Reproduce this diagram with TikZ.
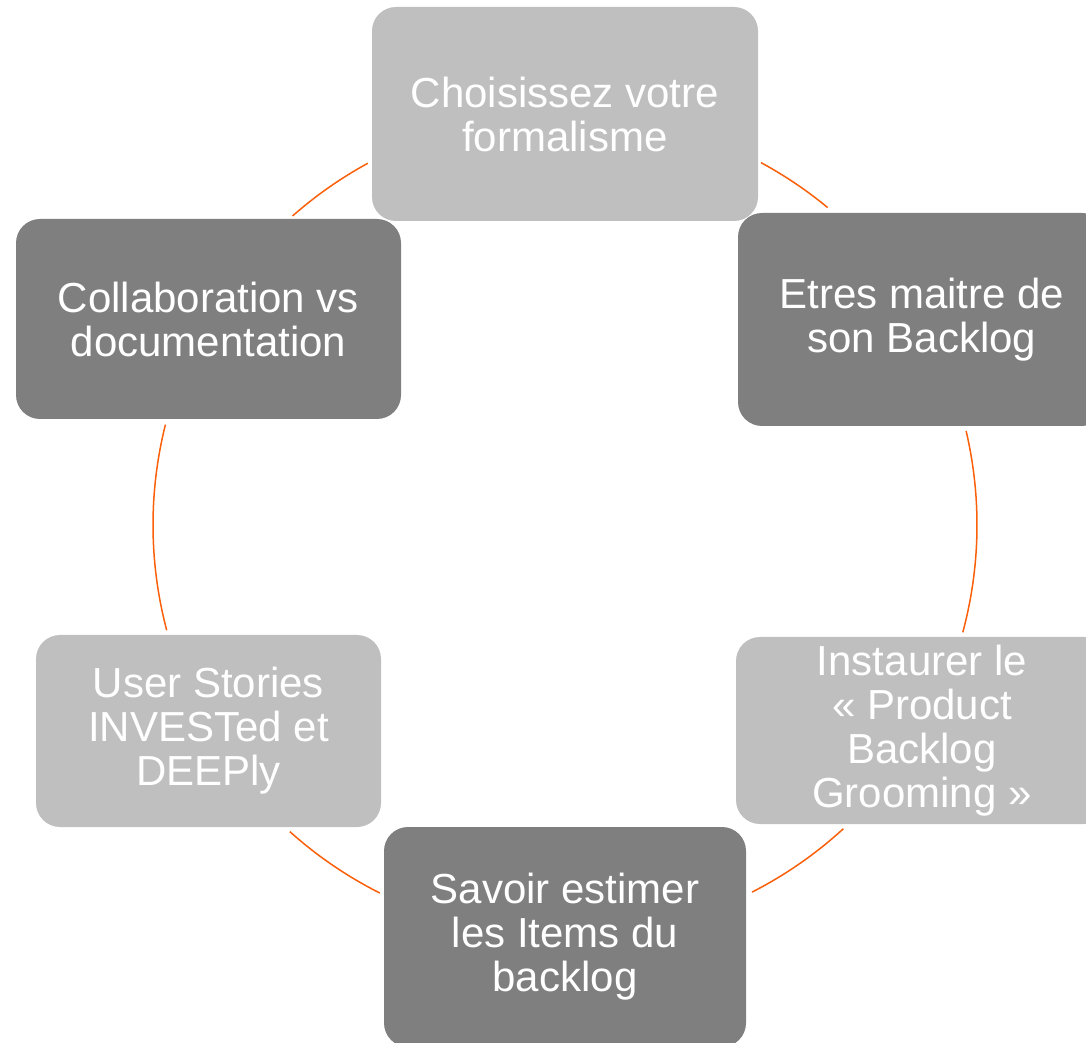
\documentclass[tikz,border=0pt]{standalone}
\usepackage{fontspec}
\setmainfont{Liberation Sans}
\definecolor{lightbox}{HTML}{BFBFBF}
\definecolor{darkbox}{HTML}{7F7F7F}
\definecolor{arcorange}{RGB}{250,95,10}
\begin{document}
\begin{tikzpicture}[x=1pt,y=1pt,
  box/.style={rounded corners=24pt, inner sep=0pt, align=center, text=white,
    font=\fontsize{42}{44}\selectfont},
  lightfill/.style={box, fill=lightbox},
  darkfill/.style={box, fill=darkbox},
  link/.style={draw=arcorange, line width=1.5pt}]
\path[use as bounding box] (0,0) rectangle (1086,1042);
\clip (0,0) rectangle (1086,1042);
\coordinate (c) at (565,517);
% boxes
\node[lightfill, minimum width=386pt, minimum height=214pt] (top) at (565,928) {Choisissez votre\\formalisme};
\node[darkfill, minimum width=368pt, minimum height=213pt] (ru) at (922,722.5) {Etres maitre de\\son Backlog};
\node[lightfill, minimum width=372pt, minimum height=187pt] (rl) at (922,311.5) {Instaurer le\\«~Product\\Backlog\\Grooming~»};
\node[darkfill, minimum width=362pt, minimum height=220pt] (bot) at (565,105) {Savoir estimer\\les Items du\\backlog};
\node[lightfill, minimum width=345pt, minimum height=192pt] (ll) at (208.5,311) {User Stories\\INVESTed et\\DEEPly};
\node[darkfill, minimum width=385pt, minimum height=200pt] (lu) at (208.5,723) {Collaboration vs\\documentation};
% connecting arcs along the cycle
\draw[link] (c) ++(61.6:412) arc[start angle=61.6, end angle=50.4, radius=412];
\draw[link] (c) ++(13.2:412) arc[start angle=13.2, end angle=-15.1, radius=412];
\draw[link] (c) ++(-47.5:412) arc[start angle=-47.5, end angle=-63.0, radius=412];
\draw[link] (c) ++(-116.7:412) arc[start angle=-116.7, end angle=-131.9, radius=412];
\draw[link] (c) ++(194.8:412) arc[start angle=194.8, end angle=165.9, radius=412];
\draw[link] (c) ++(131.4:412) arc[start angle=131.4, end angle=118.6, radius=412];
\end{tikzpicture}
\end{document}
